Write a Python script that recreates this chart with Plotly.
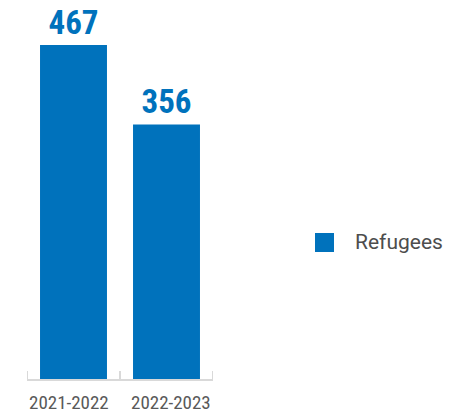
import plotly.graph_objects as go

categories = ["2021-2022", "2022-2023"]
refugees = [467, 356]
series_name = "Refugees"

BLUE = "#0072BC"
GREY_TEXT = "#595959"
AXIS = "#d9d9d9"

W, H = 451, 415
ML, MR, MT, MB = 27, 238, 0, 36
PW = W - ML - MR
PH = H - MT - MB
TICKLEN = 8


def px_to_paper_x(px):
    return (px - ML) / PW


def px_to_paper_y(py):
    return (H - MB - py) / PH


fig = go.Figure()
fig.add_trace(go.Bar(
    x=categories,
    y=refugees,
    name=series_name,
    marker=dict(color=BLUE, line=dict(width=0)),
    text=[str(v) for v in refugees],
    textposition="outside",
    textfont=dict(family="Roboto Condensed", size=33, color=BLUE, weight="bold"),
    cliponaxis=False,
    showlegend=False,
))

annotations = []
n = len(categories)
for i, lab in enumerate(categories):
    if i == 0:
        xa, xv = "left", i - 0.5
    elif i == n - 1:
        xa, xv = "right", i + 0.5
    else:
        xa, xv = "center", i
    annotations.append(dict(
        x=xv, xref="x", y=0, yref="paper", yshift=-23,
        xanchor=xa, yanchor="middle", showarrow=False, text=lab,
        font=dict(family="Roboto Condensed", size=19, color=GREY_TEXT),
    ))

# legend (manual)
annotations.append(dict(
    x=px_to_paper_x(353), xref="paper", y=px_to_paper_y(242), yref="paper",
    xanchor="left", yanchor="middle", showarrow=False, text=series_name,
    font=dict(family="Roboto", size=21, color="#4d4d4d"),
))
shapes = [dict(
    type="rect", xref="paper", yref="paper",
    x0=px_to_paper_x(315), x1=px_to_paper_x(334),
    y0=px_to_paper_y(252), y1=px_to_paper_y(233),
    fillcolor=BLUE, line=dict(width=0),
)]
# boundary ticks at both ends of the category axis
for edge in (-0.5, n - 0.5):
    shapes.append(dict(
        type="line", xref="x", yref="paper", ysizemode="pixel", yanchor=0,
        x0=edge, x1=edge, y0=0, y1=TICKLEN,
        line=dict(color=AXIS, width=2), layer="below",
    ))

fig.update_layout(
    width=W, height=H,
    margin=dict(l=ML, r=MR, t=MT, b=MB, pad=0),
    paper_bgcolor="white", plot_bgcolor="white",
    bargap=0.28,
    showlegend=False,
    xaxis=dict(
        type="category", range=[-0.5, n - 0.5],
        showline=True, linecolor=AXIS, linewidth=2,
        ticks="inside", tickson="boundaries", ticklen=TICKLEN, tickcolor=AXIS, tickwidth=2,
        showticklabels=False, showgrid=False, zeroline=False,
    ),
    yaxis=dict(
        range=[0, 530], visible=False, showgrid=False, zeroline=False,
    ),
    annotations=annotations,
    shapes=shapes,
)

fig.write_html(
    "out.html",
    config={"displayModeBar": False},
    post_script="document.body.style.margin='0';document.body.style.overflow='hidden';",
)
